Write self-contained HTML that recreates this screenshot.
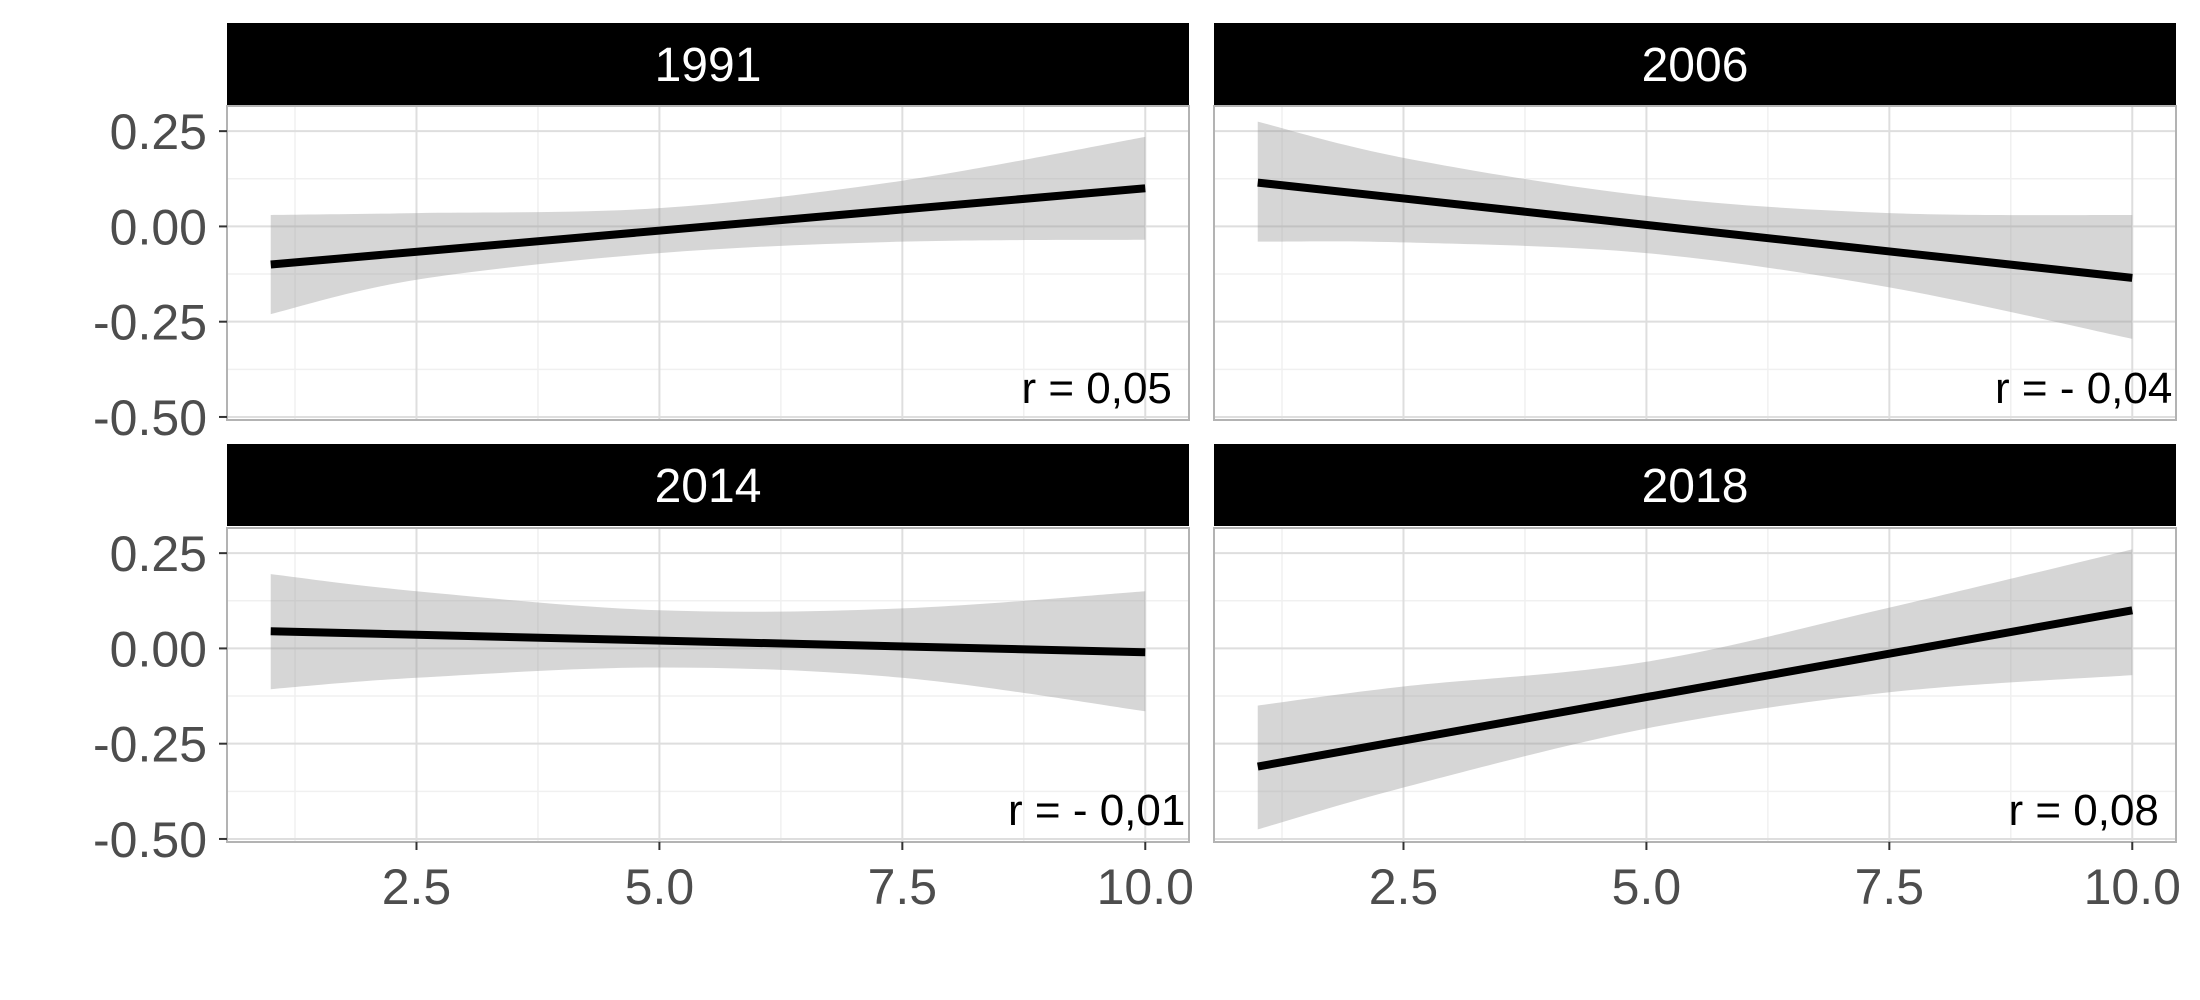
<!DOCTYPE html>
<html><head><meta charset="utf-8"><style>
html,body{margin:0;padding:0;background:#fff;}
svg{display:block;font-family:"Liberation Sans",Arial,sans-serif;}
</style></head><body>
<svg id="chart" width="2200" height="1000" viewBox="0 0 2200 1000" xmlns="http://www.w3.org/2000/svg"></svg>
<script>
const panels = ["1991","2006","2014","2018"];
const rLabels = ["r = 0,05","r = - 0,04","r = - 0,01","r = 0,08"];
const ribbonX = [1, 2.5, 5, 7.5, 10];
const upper1991 = [0.03, 0.035, 0.048, 0.12, 0.235];
const lower1991 = [-0.23, -0.14, -0.07, -0.04, -0.035];
const upper2006 = [0.275, 0.18, 0.08, 0.035, 0.03];
const lower2006 = [-0.04, -0.042, -0.07, -0.16, -0.295];
const upper2014 = [0.195, 0.15, 0.10, 0.105, 0.15];
const lower2014 = [-0.107, -0.077, -0.05, -0.077, -0.165];
const upper2018 = [-0.15, -0.10, -0.035, 0.107, 0.26];
const lower2018 = [-0.475, -0.365, -0.21, -0.115, -0.07];
const lineStart = [-0.10, 0.115, 0.045, -0.31];
const lineEnd = [0.10, -0.135, -0.01, 0.10];
const lineX = [1, 10];
const xTicks = [2.5, 5.0, 7.5, 10.0];
const xTickLabels = ["2.5","5.0","7.5","10.0"];
const yTicks = [0.25, 0, -0.25, -0.5];
const yTickLabels = ["0.25","0.00","-0.25","-0.50"];
const xMinor = [1.25, 3.75, 6.25, 8.75];
const yMinor = [0.125, -0.125, -0.375];

const uppers=[upper1991,upper2006,upper2014,upper2018];
const lowers=[lower1991,lower2006,lower2014,lower2018];
const NS="http://www.w3.org/2000/svg";
const svg=document.getElementById('chart');
function mk(tag,attrs,parent){const e=document.createElementNS(NS,tag);for(const k in attrs)e.setAttribute(k,attrs[k]);(parent||svg).appendChild(e);return e;}
const colL=[227,1214], colW=962, rowStrip=[23,444], stripH=82, rowPlot=[106,528], plotH=314;
const xMin=0.55,xMax=10.45,yMin=-0.508,yMax=0.316;
panels.forEach((p,i)=>{
  const c=i%2,r=Math.floor(i/2);
  const L=colL[c],T=rowPlot[r];
  const sx=v=>L+(v-xMin)/(xMax-xMin)*colW;
  const sy=v=>T+(yMax-v)/(yMax-yMin)*plotH;
  const g=mk('g',{});
  
  
  const st=mk('rect',{x:L,y:rowStrip[r],width:colW,height:stripH,fill:'#000'},g);
  
  
  const stt=mk('text',{x:L+colW/2,y:rowStrip[r]+stripH/2+17,'text-anchor':'middle','font-size':48,fill:'#fff'},g);
  stt.textContent=p;
  
  
  xMinor.forEach(v=>mk('line',{x1:sx(v),x2:sx(v),y1:T,y2:T+plotH,stroke:'#f0f0f0','stroke-width':1.5},g));
  yMinor.forEach(v=>mk('line',{x1:L,x2:L+colW,y1:sy(v),y2:sy(v),stroke:'#f0f0f0','stroke-width':1.5},g));
  xTicks.forEach(v=>mk('line',{x1:sx(v),x2:sx(v),y1:T,y2:T+plotH,stroke:'#dedede','stroke-width':2},g));
  yTicks.forEach(v=>mk('line',{x1:L,x2:L+colW,y1:sy(v),y2:sy(v),stroke:'#dedede','stroke-width':2},g));
  const up=uppers[i],lo=lowers[i];
  let d='M'+sx(ribbonX[0])+','+sy(up[0]);
  function smooth(xs,ys){let s='';for(let k=1;k<xs.length;k++){const x0=sx(xs[k-1]),y0=sy(ys[k-1]),x1=sx(xs[k]),y1=sy(ys[k]);const xp=k>1?sx(xs[k-2]):x0,yp=k>1?sy(ys[k-2]):y0;const xn=k<xs.length-1?sx(xs[k+1]):x1,yn=k<xs.length-1?sy(ys[k+1]):y1;s+=' C'+(x0+(x1-xp)/6)+','+(y0+(y1-yp)/6)+' '+(x1-(xn-x0)/6)+','+(y1-(yn-y0)/6)+' '+x1+','+y1;}return s;}
  d+=smooth(ribbonX,up);
  const rx=ribbonX.slice().reverse(),rl=lo.slice().reverse();
  d+=' L'+sx(rx[0])+','+sy(rl[0])+smooth(rx,rl)+' Z';
  const rb=mk('path',{d:d,fill:'#999','fill-opacity':0.4},g);
  
  
  const ln=mk('line',{x1:sx(lineX[0]),y1:sy(lineStart[i]),x2:sx(lineX[1]),y2:sy(lineEnd[i]),stroke:'#000','stroke-width':8},g);
  
  
  const bd=mk('rect',{x:L,y:T,width:colW,height:plotH,fill:'none',stroke:'#b3b3b3','stroke-width':2},g);
  
  
  const rt=mk('text',{x:sx(9.5),y:T+297,'text-anchor':'middle','font-size':44,fill:'#000'},g);
  rt.textContent=rLabels[i];
  
  
  if(c===0){
    yTicks.forEach((v,k)=>{
      mk('line',{x1:L-8,x2:L,y1:sy(v),y2:sy(v),stroke:'#333','stroke-width':2},g);
      const t=mk('text',{x:L-20,y:sy(v)+18,'text-anchor':'end','font-size':50,fill:'#4d4d4d'},g);
      t.textContent=yTickLabels[k];
      
      
    });
  }
  if(r===1){
    xTicks.forEach((v,k)=>{
      mk('line',{x1:sx(v),x2:sx(v),y1:T+plotH,y2:T+plotH+8,stroke:'#333','stroke-width':2},g);
      const t=mk('text',{x:sx(v),y:T+plotH+62,'text-anchor':'middle','font-size':50,fill:'#4d4d4d'},g);
      t.textContent=xTickLabels[k];
      
      
    });
  }
});
</script>
</body></html>
